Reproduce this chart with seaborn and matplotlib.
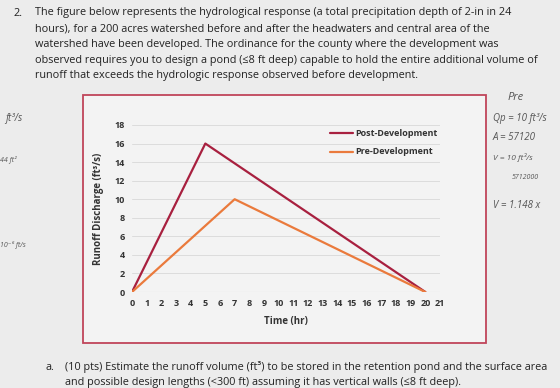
import pandas as pd
import seaborn as sns
import matplotlib.pyplot as plt
from matplotlib.patches import Rectangle

tiempo_post = [0, 5, 20]
caudal_post = [0, 16, 0]
tiempo_pre = [0, 7, 20]
caudal_pre = [0, 10, 0]
series = ['Post-Development', 'Pre-Development']
x_ticks = list(range(0, 22))
y_ticks = list(range(0, 19, 2))

df = pd.concat([
    pd.DataFrame({'Time': tiempo_post, 'Q': caudal_post, 'Serie': series[0]}),
    pd.DataFrame({'Time': tiempo_pre, 'Q': caudal_pre, 'Serie': series[1]}),
])

sns.set_style('white')
plt.rcParams['font.family'] = ['Open Sans', 'DejaVu Sans']

W, H = 560, 388
fig = plt.figure(figsize=(W / 100, H / 100), dpi=100, facecolor='#ececec')

def fx(x):
    return x / W

def fy(y):
    return 1 - y / H

# caja roja del grafico
fig.patches.append(Rectangle((fx(83), fy(343)), fx(486) - fx(83), fy(95) - fy(343),
                             transform=fig.transFigure, facecolor='#f3f3f3',
                             edgecolor='#c0455a', linewidth=1.3, zorder=-5))

ax = fig.add_axes([fx(132), fy(292), fx(440) - fx(132), fy(125) - fy(292)])
ax.set_zorder(2)
ax.set_facecolor('none')

paleta = {'Post-Development': '#a8203f', 'Pre-Development': '#ea7a3c'}
sns.lineplot(data=df, x='Time', y='Q', hue='Serie', palette=paleta, linewidth=1.6,
             ax=ax, legend=False)

ax.set_xlim(0, 21)
ax.set_ylim(0, 18)
ax.set_xticks(x_ticks)
ax.set_yticks(y_ticks)
ax.tick_params(axis='both', length=0, labelsize=6.5, colors='#333333', pad=5)
for lab in ax.get_xticklabels() + ax.get_yticklabels():
    lab.set_fontweight('bold')
ax.grid(axis='y', color='#dcdcdc', linewidth=0.7)
for s in ax.spines.values():
    s.set_visible(False)
ax.axhline(0, color='#cfcfcf', linewidth=0.8, zorder=0)

ax.set_xlabel('Time (hr)', fontsize=7, fontweight='bold', color='#333333', labelpad=6)
ax.set_ylabel('Runoff Discharge (ft³/s)', fontsize=7, fontweight='bold', color='#333333', labelpad=8)

# leyenda
for i, nombre in enumerate(series):
    yy = [133, 152][i]
    fig.add_artist(plt.Line2D([fx(330), fx(353)], [fy(yy), fy(yy)], color=paleta[nombre],
                              linewidth=1.6, transform=fig.transFigure, zorder=3))
    fig.text(fx(355), fy(yy), nombre, fontsize=6.5, fontweight='bold', color='#333333',
             va='center', ha='left', zorder=3)

# enunciado
lineas = [
    'The figure below represents the hydrological response (a total precipitation depth of 2-in in 24',
    'hours), for a 200 acres watershed before and after the headwaters and central area of the',
    'watershed have been developed. The ordinance for the county where the development was',
    'observed requires you to design a pond (≤8 ft deep) capable to hold the entire additional volume of',
    'runoff that exceeds the hydrologic response observed before development.',
]
fs = 7.85
fig.text(fx(13), fy(13), '2.', fontsize=fs, color='#222222', va='center')
for i, t in enumerate(lineas):
    fig.text(fx(35), fy(13 + 15.7 * i), t, fontsize=fs, color='#222222', va='center')

fig.text(fx(45), fy(367), 'a.', fontsize=fs, color='#222222', va='center')
fig.text(fx(65), fy(367), '(10 pts) Estimate the runoff volume (ft³) to be stored in the retention pond and the surface area',
         fontsize=fs, color='#222222', va='center')
fig.text(fx(65), fy(382), 'and possible design lengths (<300 ft) assuming it has vertical walls (≤8 ft deep).',
         fontsize=fs, color='#222222', va='center')

# notas a mano (aprox.)
notas = [(508, 98, 'Pre', 8), (493, 118, 'Qp = 10 ft³/s', 7), (493, 137, 'A = 57120', 7),
         (493, 158, 'V = 10 ft³/s', 6), (512, 178, '5712000', 5), (493, 205, 'V = 1.148 x', 7),
         (5, 118, 'ft³/s', 7), (0, 160, '44 ft²', 5), (0, 245, '10⁻⁶ ft/s', 5)]
for x, y, t, s in notas:
    fig.text(fx(x), fy(y), t, fontsize=s, color='#555555', style='italic', va='center')

fig.savefig('out.png', dpi=100, facecolor=fig.get_facecolor())
